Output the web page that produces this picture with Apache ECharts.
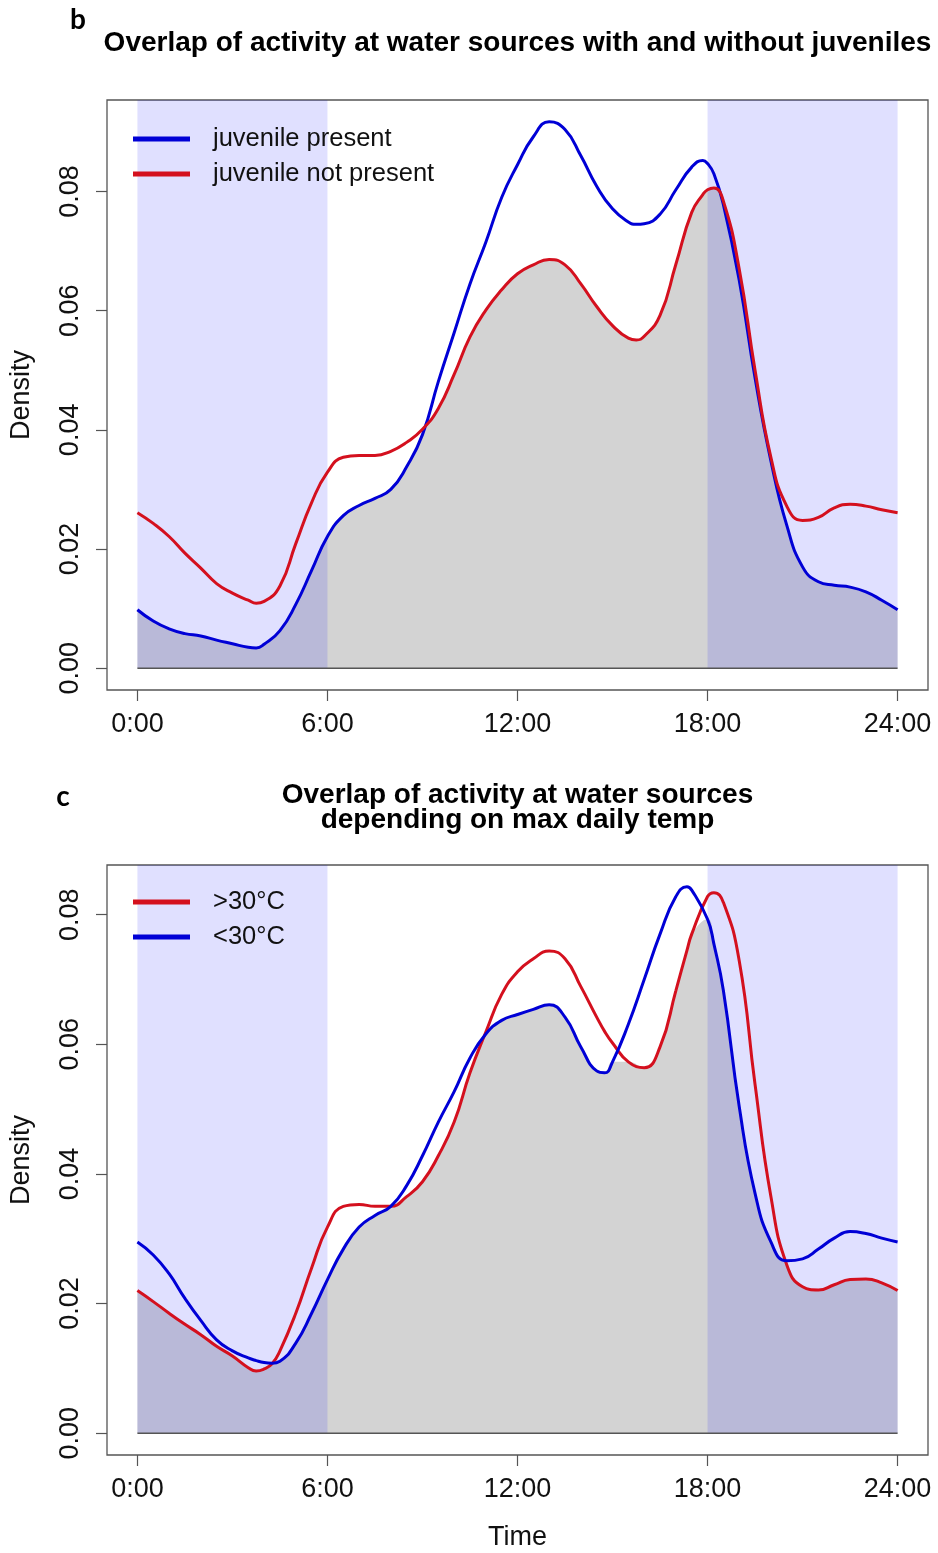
<!DOCTYPE html>
<html>
<head>
<meta charset="utf-8">
<title>Activity overlap at water sources</title>
<script src="https://cdn.jsdelivr.net/npm/echarts@6/dist/echarts.min.js"></script>
<style>
  html, body { margin: 0; padding: 0; background: #fff; }
  #chart { width: 938px; height: 1553px; }
</style>
</head>
<body>
<div id="chart"></div>
<script>
// Panel b: time of day (hours) and activity density with / without juveniles
const hoursB = [0, 0.5, 1, 1.5, 2, 2.5, 3, 3.5, 3.75, 4, 4.5, 5, 5.5, 6, 6.5, 7, 7.5, 8, 8.5, 9, 9.5,
  10, 10.5, 11, 11.5, 12, 12.5, 13, 13.5, 14, 14.5, 15, 15.5, 15.75, 16, 16.5, 17, 17.5, 17.85, 18, 18.2, 18.5,
  19, 19.5, 20, 20.5, 21, 21.5, 22, 22.5, 23, 23.5, 24];
const juvenilePresent = [0.0098, 0.0079, 0.0066, 0.0058, 0.0054, 0.0047, 0.0041, 0.0035, 0.0034, 0.0040,
  0.0063, 0.0107, 0.0164, 0.0221, 0.0256, 0.0273, 0.0285, 0.0300, 0.0338, 0.0392, 0.0481,
  0.0563, 0.0645, 0.0715, 0.0790, 0.0845, 0.0892, 0.0917, 0.0904, 0.0860, 0.0809,
  0.0771, 0.0749, 0.0745, 0.0746, 0.0762, 0.0803, 0.0841, 0.0852, 0.0847, 0.0830, 0.0778,
  0.0651, 0.0487, 0.0348, 0.0240, 0.0170, 0.0145, 0.0139, 0.0136, 0.0128, 0.0114, 0.0098];
const juvenileAbsent = [0.0261, 0.0243, 0.0221, 0.0193, 0.0168, 0.0142, 0.0126, 0.0114, 0.0109, 0.0112,
  0.0138, 0.0209, 0.0278, 0.0329, 0.0354, 0.0357, 0.0357, 0.0364, 0.0379, 0.0401, 0.0436,
  0.0493, 0.0556, 0.0601, 0.0635, 0.0662, 0.0677, 0.0686, 0.0677, 0.0645, 0.0607,
  0.0575, 0.0554, 0.0551, 0.0557, 0.0592, 0.0678, 0.0765, 0.0795, 0.0803, 0.0806, 0.0784,
  0.0670, 0.0500, 0.0354, 0.0272, 0.0248, 0.0253, 0.0269, 0.0275, 0.0272, 0.0266, 0.0261];

// Panel c: time of day (hours) and activity density by maximum daily temperature
const hoursC = [0, 0.5, 1, 1.5, 2, 2.5, 3, 3.5, 3.75, 4, 4.25, 4.5, 5, 5.5, 6, 6.5, 7, 7.5, 8, 8.5, 9, 9.5,
  10, 10.5, 11, 11.5, 12, 12.5, 13, 13.5, 14, 14.5, 14.75, 15, 15.5, 16, 16.5, 17, 17.35, 17.5, 18, 18.2, 18.5,
  19, 19.5, 20, 20.5, 21, 21.5, 22, 22.5, 23, 23.5, 24];
const hotDays = [0.0220, 0.0203, 0.0185, 0.0168, 0.0152, 0.0134, 0.0119, 0.0101, 0.0096, 0.0099, 0.0107,
  0.0127, 0.0185, 0.0255, 0.0318, 0.0350, 0.0353, 0.0350, 0.0350, 0.0365, 0.0388, 0.0428,
  0.0480, 0.0556, 0.0619, 0.0677, 0.0712, 0.0732, 0.0744, 0.0732, 0.0689, 0.0642, 0.0620,
  0.0602, 0.0573, 0.0564, 0.0596, 0.0683, 0.0745, 0.0770, 0.0828, 0.0834, 0.0819,
  0.0729, 0.0538, 0.0365, 0.0260, 0.0226, 0.0221, 0.0229, 0.0237, 0.0238, 0.0232, 0.0220];
const coolDays = [0.0295, 0.0275, 0.0246, 0.0208, 0.0174, 0.0144, 0.0127, 0.0116, 0.0112, 0.0109, 0.0108,
  0.0111, 0.0139, 0.0185, 0.0237, 0.0284, 0.0318, 0.0336, 0.0350, 0.0382, 0.0428, 0.0480,
  0.0527, 0.0579, 0.0616, 0.0637, 0.0646, 0.0654, 0.0661, 0.0642, 0.0596, 0.0559, 0.0556,
  0.0573, 0.0631, 0.0700, 0.0770, 0.0828, 0.0843, 0.0838, 0.0793, 0.0755, 0.0683,
  0.0504, 0.0370, 0.0295, 0.0266, 0.0269, 0.0284, 0.0301, 0.0311, 0.0308, 0.0301, 0.0295];

const timeTicks = [0, 6, 12, 18, 24];
const densityTicks = [0, 0.02, 0.04, 0.06, 0.08];
// Night hours shaded on both panels (start, end)
const nightSpans = [[0, 6], [18, 24]];

const FONT = '"Liberation Sans", Arial, Helvetica, sans-serif';
const BLUE = '#0000d6';
const RED = '#d4101e';
const FRAME = '#555555';

const toPairs = (xs, vals) => xs.map((h, i) => [h, vals[i]]);
const lowerEnvelope = (xs, a, b) => xs.map((h, i) => [h, Math.min(a[i], b[i])]);

// Axis limits padded by 4% on each side, as base graphics does
function padded(lo, hi) {
  const d = (hi - lo) * 0.04;
  return [lo - d, hi + d];
}
const xRange = padded(0, 24);
const yRangeB = padded(0, Math.max(...juvenilePresent, ...juvenileAbsent));
const yRangeC = padded(0, Math.max(...hotDays, ...coolDays));

const grids = [
  { left: 107, top: 100, width: 821, height: 590 },
  { left: 107, top: 865, width: 821, height: 590 }
].map(g => Object.assign({ show: true, borderColor: FRAME, borderWidth: 1.3, backgroundColor: 'transparent', containLabel: false }, g));

function xAxisFor(idx, withName) {
  return {
    gridIndex: idx, type: 'value', min: xRange[0], max: xRange[1],
    axisLine: { show: false, onZero: false },
    splitLine: { show: false },
    axisTick: { show: true, length: 11, customValues: timeTicks, lineStyle: { color: FRAME, width: 1.2 } },
    axisLabel: { customValues: timeTicks, formatter: v => v + ':00', fontSize: 27, color: '#111', margin: 21, fontFamily: FONT },
    name: withName ? 'Time' : '', nameLocation: 'middle', nameGap: 69,
    nameTextStyle: { fontSize: 27, color: '#111', fontFamily: FONT }
  };
}
function yAxisFor(idx, range) {
  return {
    gridIndex: idx, type: 'value', min: range[0], max: range[1],
    axisLine: { show: false, onZero: false },
    splitLine: { show: false },
    axisTick: { show: true, length: 11, customValues: densityTicks, lineStyle: { color: FRAME, width: 1.2 } },
    axisLabel: { customValues: densityTicks, formatter: v => v.toFixed(2), rotate: 90, fontSize: 27, color: '#111', margin: 23, fontFamily: FONT },
    name: 'Density', nameLocation: 'middle', nameRotate: 90, nameGap: 72,
    nameTextStyle: { fontSize: 27, color: '#111', fontFamily: FONT }
  };
}

function panelSeries(idx, xs, first, second, yTop) {
  const [a, b] = [first, second];
  return [
    {
      type: 'line', xAxisIndex: idx, yAxisIndex: idx, z: 1, silent: true,
      data: lowerEnvelope(xs, a.values, b.values), smooth: true, symbol: 'none',
      lineStyle: { width: 0 }, areaStyle: { color: '#d3d3d3', opacity: 1 }
    },
    {
      type: 'custom', xAxisIndex: idx, yAxisIndex: idx, z: 2, silent: true,
      data: nightSpans, encode: { x: [0, 1] },
      renderItem: (params, api) => {
        const p0 = api.coord([api.value(0), yTop]);
        const p1 = api.coord([api.value(1), 0]);
        return {
          type: 'rect',
          shape: { x: p0[0], y: p0[1], width: p1[0] - p0[0], height: p1[1] - p0[1] },
          style: { fill: 'rgba(0,0,255,0.12)' }
        };
      }
    },
    {
      type: 'line', xAxisIndex: idx, yAxisIndex: idx, z: 3, silent: true,
      data: [[xs[0], 0], [xs[xs.length - 1], 0]], symbol: 'none',
      lineStyle: { color: FRAME, width: 1.5 }
    },
    ...[a, b].map(s => ({
      name: s.name, type: 'line', xAxisIndex: idx, yAxisIndex: idx, z: 4,
      data: toPairs(xs, s.values), smooth: true, symbol: 'none',
      itemStyle: { color: s.color }, lineStyle: { color: s.color, width: 3 }
    }))
  ];
}

const legendBase = {
  orient: 'vertical', left: 133, padding: 0, icon: 'rect', itemWidth: 57, itemHeight: 5, itemGap: 5,
  selectedMode: false,
  textStyle: { fontSize: 25.5, lineHeight: 30, color: '#111', fontFamily: FONT, padding: [0, 0, 0, 18] }
};

const chart = echarts.init(document.getElementById('chart'), null, { renderer: 'canvas' });
chart.setOption({
  animation: false,
  backgroundColor: '#fff',
  grid: grids,
  xAxis: [xAxisFor(0, false), xAxisFor(1, true)],
  yAxis: [yAxisFor(0, yRangeB), yAxisFor(1, yRangeC)],
  legend: [
    Object.assign({}, legendBase, { top: 124, data: ['juvenile present', 'juvenile not present'] }),
    Object.assign({}, legendBase, { top: 887, data: ['>30°C', '<30°C'] })
  ],
  series: [
    ...panelSeries(0, hoursB,
      { name: 'juvenile present', values: juvenilePresent, color: BLUE },
      { name: 'juvenile not present', values: juvenileAbsent, color: RED },
      yRangeB[1]),
    ...panelSeries(1, hoursC,
      { name: '>30°C', values: hotDays, color: RED },
      { name: '<30°C', values: coolDays, color: BLUE },
      yRangeC[1])
  ],
  graphic: [
    { type: 'text', x: 78, y: 20, style: { text: 'b', font: 'bold 28px Lato, "Open Sans", sans-serif', align: 'center', verticalAlign: 'middle', fill: '#000' } },
    { type: 'text', x: 517.5, y: 43, style: { text: 'Overlap of activity at water sources with and without juveniles', font: 'bold 28px ' + FONT, align: 'center', verticalAlign: 'middle', fill: '#000' } },
    { type: 'text', x: 63, y: 797, style: { text: 'c', font: 'bold 28px Lato, "Open Sans", sans-serif', align: 'center', verticalAlign: 'middle', fill: '#000' } },
    { type: 'text', x: 517.5, y: 795, style: { text: 'Overlap of activity at water sources', font: 'bold 28px ' + FONT, align: 'center', verticalAlign: 'middle', fill: '#000' } },
    { type: 'text', x: 517.5, y: 820, style: { text: 'depending on max daily temp', font: 'bold 28px ' + FONT, align: 'center', verticalAlign: 'middle', fill: '#000' } }
  ]
});
</script>
</body>
</html>
